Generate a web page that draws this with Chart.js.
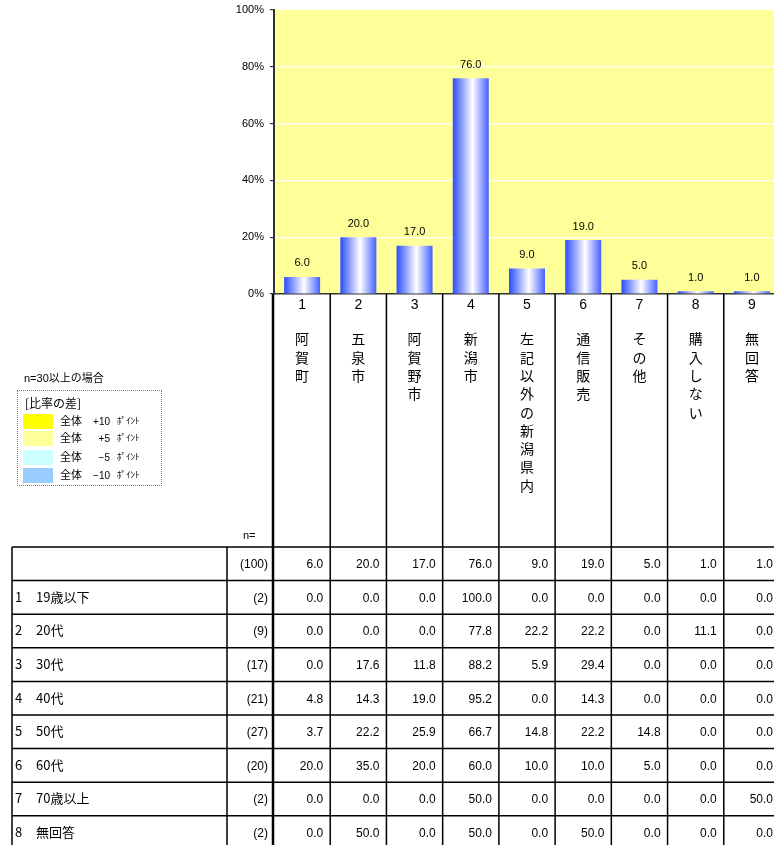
<!DOCTYPE html>
<html lang="ja">
<head>
<meta charset="UTF-8">
<title>購入先</title>
<script src="https://cdn.jsdelivr.net/npm/chart.js"></script>
<style>
  html, body { margin: 0; padding: 0; background: #fff; overflow: hidden; }
  #wrap { position: relative; width: 790px; height: 860px; }
  .legend-note { position: absolute; left: 24px; top: 369px; font: 11px "Liberation Sans", "Noto Sans CJK JP", sans-serif; color: #000; }
  .legend-box { position: absolute; left: 17px; top: 390px; width: 145px; height: 96px; border: 1px dotted #777; box-sizing: border-box; }
</style>
</head>
<body>
<div id="wrap">
  <canvas id="chart" width="790" height="860"></canvas>
  <div class="legend-note">n=30以上の場合</div>
  <div class="legend-box"></div>
</div>
<script>
// categories and overall values
const catNums = ['1', '2', '3', '4', '5', '6', '7', '8', '9'];
const catNames = ['阿賀町', '五泉市', '阿賀野市', '新潟市', '左記以外の新潟県内', '通信販売', 'その他', '購入しない', '無回答'];
const totals = [6.0, 20.0, 17.0, 76.0, 9.0, 19.0, 5.0, 1.0, 1.0];
const totalN = 100;
const yTicks = [0, 20, 40, 60, 80, 100];

// cross table rows
const rowLabels = ['1　19歳以下', '2　20代', '3　30代', '4　40代', '5　50代', '6　60代', '7　70歳以上', '8　無回答'];
const rowN = [2, 9, 17, 21, 27, 20, 2, 2];
const row1 = [0.0, 0.0, 0.0, 100.0, 0.0, 0.0, 0.0, 0.0, 0.0];
const row2 = [0.0, 0.0, 0.0, 77.8, 22.2, 22.2, 0.0, 11.1, 0.0];
const row3 = [0.0, 17.6, 11.8, 88.2, 5.9, 29.4, 0.0, 0.0, 0.0];
const row4 = [4.8, 14.3, 19.0, 95.2, 0.0, 14.3, 0.0, 0.0, 0.0];
const row5 = [3.7, 22.2, 25.9, 66.7, 14.8, 22.2, 14.8, 0.0, 0.0];
const row6 = [20.0, 35.0, 20.0, 60.0, 10.0, 10.0, 5.0, 0.0, 0.0];
const row7 = [0.0, 0.0, 0.0, 50.0, 0.0, 0.0, 0.0, 0.0, 50.0];
const row8 = [0.0, 50.0, 0.0, 50.0, 0.0, 50.0, 0.0, 0.0, 0.0];
const rowValues = [row1, row2, row3, row4, row5, row6, row7, row8];

// legend
const legendColors = ['#FFFF00', '#FFFF99', '#CCFFFF', '#99CCFF'];
const legendDiffs = ['+10', '+5', '−5', '−10'];

const FONT = '"Liberation Sans", "Noto Sans CJK JP", sans-serif';
const JFONT = '"Noto Sans CJK JP", sans-serif';
const tableTop = 547;
const rowH = 33.6;

const barFill = (c) => {
  const chart = c.chart;
  const x = chart.scales.x;
  if (!x || !chart.chartArea) return '#4466ff';
  const cx = x.getPixelForValue(c.dataIndex);
  const half = (x.width / catNums.length) * 0.64 / 2;
  const g = chart.ctx.createLinearGradient(cx - half, 0, cx + half, 0);
  g.addColorStop(0, '#2a4bff');
  g.addColorStop(0.55, '#ffffff');
  g.addColorStop(1, '#4560ff');
  return g;
};

const plotBg = {
  id: 'plotBg',
  beforeDraw(chart) {
    const { ctx, chartArea: a } = chart;
    ctx.save();
    ctx.fillStyle = '#FFFF99';
    ctx.fillRect(a.left, a.top, a.right - a.left, a.bottom - a.top);
    ctx.restore();
  }
};

const tablePlugin = {
  id: 'tablePlugin',
  afterDraw(chart) {
    const { ctx, chartArea: a } = chart;
    const x = chart.scales.x;
    const colW = x.width / catNums.length;
    const nRows = rowValues.length + 1;
    const bottom = tableTop + nRows * rowH;
    ctx.save();

    // bar value labels
    const meta = chart.getDatasetMeta(0);
    ctx.fillStyle = '#000';
    ctx.font = '11px ' + FONT;
    ctx.textAlign = 'center';
    ctx.textBaseline = 'bottom';
    meta.data.forEach((bar, i) => {
      ctx.fillText(totals[i].toFixed(1), bar.x, bar.y - 8);
    });

    // category numbers and vertical names
    ctx.textBaseline = 'middle';
    catNums.forEach((n, i) => {
      const cx = x.getPixelForValue(i);
      ctx.font = '14px ' + FONT;
      ctx.fillText(n, cx, 305);
      ctx.font = '14px ' + JFONT;
      [...catNames[i]].forEach((ch, k) => {
        ctx.fillText(ch, cx, 339 + k * 18.3);
      });
    });

    // n= label
    ctx.font = '11px ' + FONT;
    ctx.textAlign = 'left';
    ctx.fillText('n=', 243, 536);

    // grid lines
    ctx.strokeStyle = '#000';
    ctx.lineWidth = 1.5;
    ctx.beginPath();
    for (let i = 1; i <= catNums.length; i++) {
      const lx = a.left + i * colW;
      ctx.moveTo(lx, a.bottom);
      ctx.lineTo(lx, bottom);
    }
    for (let r = 0; r <= nRows; r++) {
      const ly = tableTop + r * rowH;
      ctx.moveTo(12, ly);
      ctx.lineTo(a.right, ly);
    }
    ctx.moveTo(12, tableTop);
    ctx.lineTo(12, bottom);
    ctx.moveTo(227, tableTop);
    ctx.lineTo(227, bottom);
    ctx.stroke();
    ctx.lineWidth = 2.5;
    ctx.beginPath();
    ctx.moveTo(a.left - 1, a.bottom);
    ctx.lineTo(a.left - 1, bottom);
    ctx.stroke();

    // table text
    const rows = [{ label: '', n: totalN, vals: totals }].concat(
      rowValues.map((v, r) => ({ label: rowLabels[r], n: rowN[r], vals: v }))
    );
    rows.forEach((row, r) => {
      const cy = tableTop + r * rowH + rowH / 2 + 1;
      ctx.font = '13px ' + JFONT;
      ctx.textAlign = 'left';
      if (row.label) {
        const parts = row.label.split('　');
        ctx.fillText(parts[0], 15, cy - 1.5);
        ctx.fillText(parts[1], 36, cy - 1.5);
      }
      ctx.font = '12px ' + FONT;
      ctx.textAlign = 'right';
      ctx.fillText('(' + row.n + ')', 268, cy);
      row.vals.forEach((v, i) => {
        ctx.fillText(v.toFixed(1), a.left + (i + 1) * colW - 7, cy);
      });
    });

    // legend contents
    ctx.textAlign = 'left';
    ctx.font = '12px ' + JFONT;
    ctx.fillText('[比率の差]', 25, 403);
    const sy = [414, 431, 450, 468];
    legendColors.forEach((c, i) => {
      ctx.fillStyle = c;
      ctx.fillRect(23, sy[i], 30, 15);
      ctx.fillStyle = '#000';
      ctx.font = '11px ' + JFONT;
      ctx.textAlign = 'left';
      ctx.fillText('全体', 60, sy[i] + 7);
      ctx.font = '10px ' + FONT;
      ctx.textAlign = 'right';
      ctx.fillText(legendDiffs[i], 110, sy[i] + 8);
      ctx.font = '9px ' + JFONT;
      ctx.textAlign = 'left';
      ctx.fillText('ﾎﾟｲﾝﾄ', 117, sy[i] + 7);
    });
    ctx.restore();
  }
};

new Chart(document.getElementById('chart'), {
  type: 'bar',
  data: {
    labels: catNums,
    datasets: [{
      data: totals,
      backgroundColor: barFill,
      borderWidth: 0,
      barPercentage: 0.64,
      categoryPercentage: 1.0
    }]
  },
  options: {
    responsive: false,
    animation: false,
    events: [],
    layout: { padding: { top: 10, left: 0, right: 10, bottom: 0 } },
    plugins: { legend: { display: false }, tooltip: { enabled: false } },
    scales: {
      x: {
        grid: { display: false, drawTicks: false },
        border: { color: '#333', width: 1.5 },
        ticks: { display: false },
        afterFit: (s) => { s.height = 860 - 294; }
      },
      y: {
        min: 0,
        max: 100,
        afterBuildTicks: (s) => { s.ticks = yTicks.map(v => ({ value: v })); },
        afterFit: (s) => { s.width = 274; s.paddingTop = 0; s.paddingBottom = 0; },
        grid: {
          color: (c) => (c.tick && (c.tick.value === 0 || c.tick.value === 100)) ? 'rgba(0,0,0,0)' : '#ffffff',
          tickColor: '#333',
          tickLength: 4,
          lineWidth: 1.2
        },
        border: { color: '#333', width: 2 },
        ticks: {
          color: '#000',
          font: { size: 11, family: FONT },
          padding: 6,
          callback: (v) => v + '%'
        }
      }
    }
  },
  plugins: [plotBg, tablePlugin]
});
</script>
</body>
</html>
